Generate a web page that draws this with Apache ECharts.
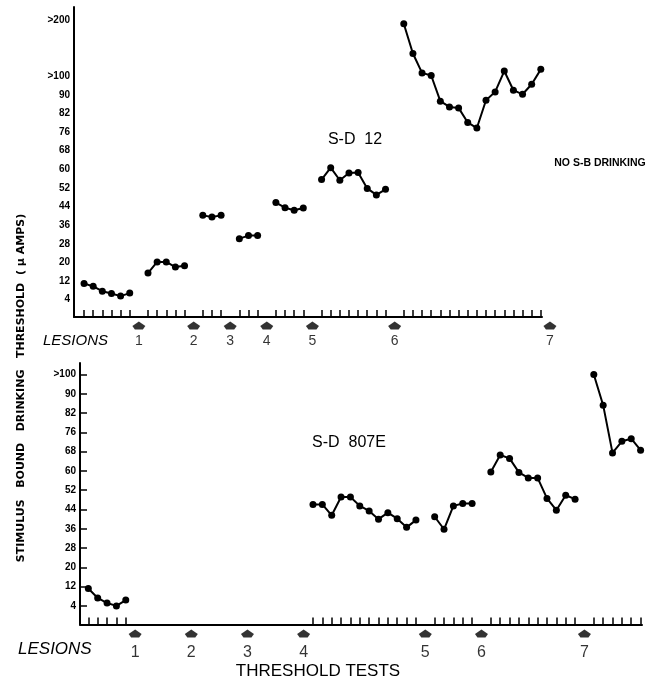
<!DOCTYPE html>
<html><head><meta charset="utf-8">
<script src="https://cdn.jsdelivr.net/npm/echarts@6/dist/echarts.min.js"></script>
<style>html,body{margin:0;padding:0;background:#fff}#c{width:655px;height:689px}</style>
</head><body><div id="c"></div>
<script>
// ---- data ----
const yTickValues = [4, 12, 20, 28, 36, 44, 52, 60, 68, 76, 82, 90, 100, 200];
const yTickLabels = ['4', '12', '20', '28', '36', '44', '52', '60', '68', '76', '82', '90', '>100', '>200'];
const yTickPositions = [0, 1, 2, 3, 4, 5, 6, 7, 8, 9, 10, 11, 12, 15];
const lesionLabels = ['1', '2', '3', '4', '5', '6', '7'];

// S-D 12 (top panel): lesion test slots and runs of thresholds (µA)
const sd12Lesions = [6, 12, 16, 20, 25, 34, 51];
const sd12Starts = [0, 7, 13, 17, 21, 26, 35];
const sd12Runs = [
  [10.9, 9.7, 7.6, 6.6, 5.5, 6.8],
  [15.4, 20.2, 20.2, 18.0, 18.5],
  [40.2, 39.5, 40.2],
  [30.2, 31.5, 31.5],
  [45.7, 43.5, 42.4, 43.4],
  [55.6, 60.7, 55.3, 58.4, 58.6, 51.8, 49.0, 51.4],
  [194, 140.7, 106, 101.3, 87.3, 84.8, 84.4, 79.1, 77.3, 87.7, 91.6, 109.3, 92.5, 90.3, 95.7, 112.3]
];

// S-D 807E (bottom panel)
const sd807eLesions = [5, 11, 17, 23, 36, 42, 53];
const sd807eStarts = [0, 24, 37, 43, 54];
const sd807eRuns = [
  [11.2, 7.3, 5.2, 4.0, 6.4],
  [46.1, 46.1, 41.6, 49.2, 49.2, 45.5, 43.4, 40.0, 42.7, 40.2, 36.6, 39.6],
  [41.0, 35.8, 45.5, 46.5, 46.5],
  [59.6, 66.6, 65.2, 59.4, 57.1, 57.1, 48.6, 43.7, 49.9, 48.3],
  [100, 85.3, 67.5, 72.3, 73.4, 68.6]
];

// ---- scale helper: threshold (µA) -> axis position on the scale of the labelled ticks ----
function toAxis(v) {
  for (let i = 0; i < yTickValues.length - 1; i++) {
    const a = yTickValues[i], b = yTickValues[i + 1];
    if (v <= b || i === yTickValues.length - 2) {
      return yTickPositions[i] + (v - a) / (b - a) * (yTickPositions[i + 1] - yTickPositions[i]);
    }
  }
}
function labelFor(pos) {
  const i = yTickPositions.findIndex(p => Math.abs(p - pos) < 1e-6);
  return i >= 0 ? yTickLabels[i] : '';
}

// ---- layout ----
const FONT = '"Liberation Sans", Arial, sans-serif';
const panels = [
  { grid: { left: 74, top: 7, width: 468, height: 310 }, x: [-1.1, 50.13], y: [-0.935, 15.72],
    nTicks: 14, lesions: sd12Lesions, starts: sd12Starts, runs: sd12Runs,
    yTicks: false, arrowOff: 8.5, numSize: 14, numGap: 5, labelMargin: 4 },
  { grid: { left: 80, top: 363, width: 562, height: 261.5 }, x: [-0.89, 59.15], y: [-0.965, 12.6],
    nTicks: 13, lesions: sd807eLesions, starts: sd807eStarts, runs: sd807eRuns,
    yTicks: true, arrowOff: 9, numSize: 16, numGap: 7, labelMargin: 4 }
];

const grids = [], xAxes = [], yAxes = [], series = [];
panels.forEach((p, k) => {
  grids.push(p.grid);
  const testPos = [];
  p.runs.forEach((r, j) => r.forEach((_, i) => testPos.push(p.starts[j] + i)));
  xAxes.push({
    type: 'value', gridIndex: k, min: p.x[0], max: p.x[1],
    axisLine: { onZero: false, lineStyle: { color: '#000', width: 2 } },
    axisTick: { show: true, inside: true, length: 7, customValues: testPos, lineStyle: { color: '#000', width: 1.5 } },
    axisLabel: { show: false }, splitLine: { show: false }
  });
  const yCustom = yTickPositions.slice(0, p.nTicks);
  yAxes.push({
    type: 'value', gridIndex: k, min: p.y[0], max: p.y[1],
    axisLine: { show: true, onZero: false, lineStyle: { color: '#000', width: 2 } },
    axisTick: { show: p.yTicks, inside: true, length: 7, customValues: yCustom, lineStyle: { color: '#000', width: 1.5 } },
    axisLabel: { customValues: yCustom, formatter: v => labelFor(v), color: '#000', fontFamily: FONT,
      fontWeight: 'bold', fontSize: 10, margin: p.labelMargin },
    splitLine: { show: false }
  });
  p.runs.forEach((r, j) => {
    series.push({
      type: 'line', xAxisIndex: k, yAxisIndex: k,
      data: r.map((v, i) => [p.starts[j] + i, toAxis(v)]),
      symbol: 'circle', symbolSize: 7, showSymbol: true,
      lineStyle: { color: '#000', width: 2 }, itemStyle: { color: '#000' },
      silent: true, animation: false
    });
  });
  const pxPerUnit = p.grid.height / (p.y[1] - p.y[0]);
  series.push({
    type: 'scatter', xAxisIndex: k, yAxisIndex: k, clip: false,
    data: p.lesions.map((x, i) => ({ value: [x, p.y[0] - p.arrowOff / pxPerUnit], name: lesionLabels[i] })),
    symbol: 'path://M6.5,0 L13,4.5 L10.5,8 L2.5,8 L0,4.5 Z', symbolSize: [13, 8],
    itemStyle: { color: '#000' },
    label: { show: true, position: 'bottom', distance: p.numGap, formatter: d => d.name,
      color: '#000', fontFamily: FONT, fontSize: p.numSize },
    silent: true, animation: false
  });
});

const chart = echarts.init(document.getElementById('c'), null, { renderer: 'canvas' });
chart.setOption({
  backgroundColor: '#fff',
  animation: false,
  grid: grids, xAxis: xAxes, yAxis: yAxes, series: series,
  graphic: [
    { type: 'text', x: 21, y: 388, rotation: Math.PI / 2,
      style: { text: 'STIMULUS   BOUND   DRINKING   THRESHOLD  ( μ AMPS)', font: 'bold 11px "DejaVu Sans", sans-serif',
        fill: '#000', align: 'center', verticalAlign: 'middle' } },
    { type: 'text', x: 43, y: 341, style: { text: 'LESIONS', font: 'italic 15px ' + FONT, fill: '#000', verticalAlign: 'middle' } },
    { type: 'text', x: 18, y: 649, style: { text: 'LESIONS', font: 'italic 17px ' + FONT, fill: '#000', verticalAlign: 'middle' } },
    { type: 'text', x: 355, y: 140, style: { text: 'S-D  12', font: '16px ' + FONT, fill: '#000', align: 'center', verticalAlign: 'middle' } },
    { type: 'text', x: 349, y: 443, style: { text: 'S-D  807E', font: '16px ' + FONT, fill: '#000', align: 'center', verticalAlign: 'middle' } },
    { type: 'text', x: 600, y: 163, style: { text: 'NO S-B DRINKING', font: 'bold 10.5px ' + FONT, fill: '#000', align: 'center', verticalAlign: 'middle' } },
    { type: 'text', x: 318, y: 671, style: { text: 'THRESHOLD TESTS', font: '17px ' + FONT, fill: '#000', align: 'center', verticalAlign: 'middle' } }
  ]
});
</script>
</body></html>
